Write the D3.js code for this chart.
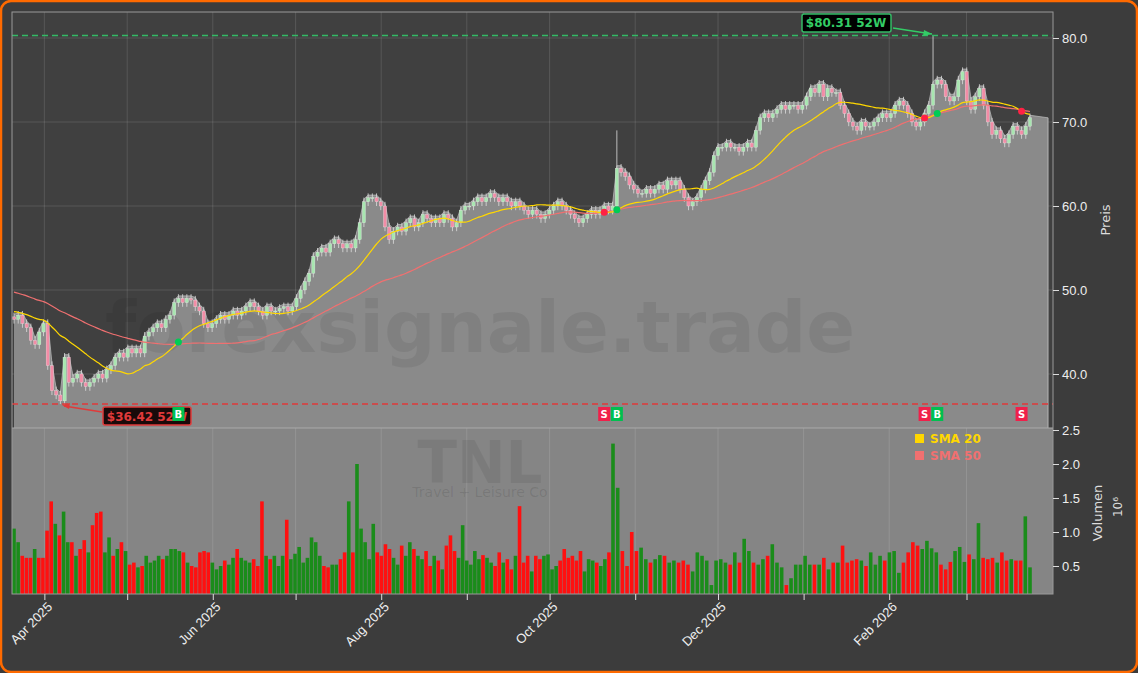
<!DOCTYPE html><html><head><meta charset="utf-8"><script src="https://cdn.jsdelivr.net/npm/d3@7"></script>
<style>body{margin:0;background:#3b3b3b;font-family:"DejaVu Sans",sans-serif}</style></head><body><svg id="c" width="1138" height="673"></svg>
<script>
const priorCloses=[54,53.8,53.5,53.6,53.2,53,52.8,52.5,52.7,52.4,52,51.8,52,51.6,51.3,51,51.2,50.8,50.5,50.6,50.2,50,49.8,50,49.6,49.3,49.5,49,48.8,49,48.6,48.3,48.5,48.2,47.9,48,47.7,47.5,47.8,47.4,47.2,47.5,47,46.8,47.1,46.7,46.5,46.8,46.4];
const closes=[46.5,47,46,45.5,44,43.5,45,46,41,38,37.5,36.8,42,39,39.5,40,39,38.5,39,39.5,40,39.5,40.5,41,42,42.5,42,43,42.5,43,42.5,44.5,45,45.5,46,45.5,46.5,47,48.5,49,48.5,49,48.8,48,47.5,46,45.5,46,46.5,47,46.5,47,47.5,47,47.5,48,48.5,48,47.5,47,48,47.5,47.5,47.8,48,47.5,48,49,50,51,52,54,54.5,55,54.5,55.5,56,55.5,55,55.5,55,56,58,60.5,61,61,60.5,60,57.5,56,57,57.5,57,58,58.5,57.5,58,59,58.5,58,58.5,58,59,58.5,57.5,58,59.5,60,60,60.5,61,60.5,61,61.5,61,60.5,61,60.5,60,60.5,60,59.5,59,59.5,59,58.5,59,59.5,60,60.5,60,59.5,59,58.5,58,58.5,59,59.5,59,59.5,60,59.5,60,64.5,64,63.5,62.5,62,61.5,61.5,62,61.5,62,62.5,62,63,62.5,63,62,61,60,60.5,61,62,63,64,66,67,67,67.5,67,67,66.5,67,67.5,67,69,70.5,71,70.5,71,71.5,72,71.5,72,72,71.5,72,73,74,73.5,74.5,73,74,73.5,73.5,72,71,70,69.5,69,70,69.5,69.5,70,70.5,71,70.5,71,72,72.5,72,71,70,69.5,70,71,72,74.5,75,74.5,73,72.5,73,75,76,72.5,71.5,73,74,72,70,68.5,69,68,67.5,68.5,69.5,69,68.5,69.5,70.5];
const volumes=[1.05,0.85,0.65,0.62,0.62,0.75,0.62,0.62,1.02,1.45,1.12,0.95,1.3,0.85,0.85,0.65,0.75,0.88,0.7,1.1,1.28,1.3,0.7,0.92,0.65,0.75,0.85,0.72,0.52,0.55,0.48,0.5,0.65,0.55,0.58,0.65,0.6,0.65,0.75,0.75,0.72,0.7,0.55,0.5,0.48,0.7,0.72,0.7,0.55,0.45,0.5,0.58,0.52,0.62,0.75,0.62,0.58,0.55,0.6,0.5,1.45,0.65,0.6,0.65,0.5,0.65,1.18,0.6,0.68,0.78,0.55,0.62,0.92,0.85,0.65,0.5,0.48,0.52,0.52,0.6,0.7,1.45,0.7,2.0,1.05,0.85,0.6,1.12,0.7,0.65,0.82,0.75,0.62,0.52,0.8,0.65,0.85,0.75,0.65,0.6,0.72,0.5,0.65,0.58,0.45,0.8,0.95,0.72,0.62,1.1,0.58,0.52,0.72,0.6,0.66,0.62,0.55,0.5,0.7,0.55,0.6,0.45,0.65,1.38,0.55,0.65,0.42,0.65,0.6,0.65,0.67,0.45,0.5,0.58,0.75,0.62,0.65,0.58,0.72,0.42,0.6,0.58,0.55,0.5,0.6,0.7,2.3,1.65,0.72,0.5,1.0,0.72,0.77,0.6,0.55,0.6,0.66,0.65,0.55,0.58,0.55,0.58,0.52,0.42,0.7,0.65,0.58,0.22,0.58,0.6,0.55,0.52,0.7,0.55,0.9,0.72,0.55,0.52,0.6,0.65,0.82,0.55,0.48,0.22,0.32,0.52,0.52,0.65,0.52,0.52,0.52,0.62,0.45,0.55,0.55,0.8,0.55,0.58,0.6,0.58,0.5,0.7,0.52,0.65,0.58,0.7,0.72,0.4,0.55,0.7,0.85,0.8,0.75,0.87,0.76,0.7,0.52,0.45,0.56,0.72,0.78,0.56,0.67,0.6,1.13,0.62,0.6,0.62,0.55,0.7,0.58,0.6,0.58,0.58,1.23,0.48];
const volUp=[1,1,0,0,0,1,0,0,0,0,1,0,1,1,0,1,0,0,1,0,0,0,1,1,0,1,0,1,0,0];
const xTickLabels=["Apr 2025","Jun 2025","Aug 2025","Oct 2025","Dec 2025","Feb 2026"];
const priceTicks=[40,50,60,70,80];
const volTicks=[0.5,1.0,1.5,2.0,2.5];
const high52=80.31, low52=36.42;

const N=closes.length, NV=volumes.length;
const spikeI=closes.findIndex((c,i)=>i>100&&c-closes[i-1]>4);
const svg=d3.select("#c");
svg.append("rect").attr("x",1).attr("y",1).attr("width",1136).attr("height",671).attr("rx",10).attr("fill","#3c3c3c").attr("stroke","#ff6a00").attr("stroke-width",2.5);
const L=12,R=1053,PT=12,PB=428,VB=594;
const tx=d3.scaleTime().domain([new Date(2025,2,21),new Date(2026,2,24)]).range([14,1030]);
const xi=d3.scaleLinear().domain([0,N-1]).range([14,1030]);
const y=d3.scaleLinear().domain([80-(PB-38)/8.4, 80+(38-PT)/8.4]).range([PB,PT]);
const yv=d3.scaleLinear().domain([0,2.5]).range([600,430]);
svg.append("defs").append("clipPath").attr("id","vc").append("rect").attr("x",L).attr("y",PB).attr("width",R-L).attr("height",VB-PB);
svg.append("rect").attr("x",L).attr("y",PT).attr("width",R-L).attr("height",PB-PT).attr("fill","#404040");
svg.append("rect").attr("x",L).attr("y",PB).attr("width",R-L).attr("height",VB-PB).attr("fill","#858585");
const g=svg.append("g");
const allMonths=d3.timeMonth.range(new Date(2025,3,1),new Date(2026,3,1));
allMonths.forEach(m=>g.append("line").attr("x1",tx(m)).attr("x2",tx(m)).attr("y1",PT).attr("y2",VB).attr("stroke","#ffffff").attr("stroke-opacity",0.12));
priceTicks.forEach(v=>g.append("line").attr("x1",L).attr("x2",R).attr("y1",y(v)).attr("y2",y(v)).attr("stroke","#ffffff").attr("stroke-opacity",0.12));
const opens=closes.map((c,i)=>i?closes[i-1]:c+0.3);
const highI=d3.maxIndex(closes.map((c,i)=>c-opens[i]>1.5&&i>200?1:0));
const pts=closes.map((c,i)=>[xi(i),y(Math.max(c,opens[i])+0.3)]);
pts.push([1048,y(closes[N-1])]);
const areaGen=d3.area().x(d=>d[0]).y0(PB).y1(d=>d[1]);
svg.append("path").attr("d",areaGen(pts)).attr("fill","#8a8a8a");
svg.append("path").attr("d",d3.line()(pts)).attr("fill","none").attr("stroke","#b5b5b5").attr("stroke-width",0.8);
svg.append("line").attr("x1",1048).attr("x2",1048).attr("y1",y(closes[N-1])).attr("y2",PB).attr("stroke","#b5b5b5");
svg.append("text").attr("x",480).attr("y",352).attr("text-anchor","middle").attr("font-size",72).attr("font-weight","bold").attr("fill","#000").attr("fill-opacity",0.07).text("forexsignale.trade");
const cg=svg.append("g");
for(let i=0;i<N;i++){const o=opens[i],c=closes[i];const hi=Math.max(o,c)+0.5,lo=Math.min(o,c)-0.5;
 let H=hi,Lo=lo; if(i===spikeI)H=69; if(i===highI)H=high52; if(i===11)Lo=low52;
 const x=xi(i),col=c>=o?"#a8e6b0":"#f28ca6";
 cg.append("line").attr("x1",x).attr("x2",x).attr("y1",y(H)).attr("y2",y(Lo)).attr("stroke","#dddddd").attr("stroke-width",0.8);
 cg.append("rect").attr("x",x-1.6).attr("width",3.2).attr("y",y(Math.max(o,c))).attr("height",Math.max(1,Math.abs(y(o)-y(c)))).attr("fill",col).attr("stroke","#eee").attr("stroke-width",0.3);}
const all=priorCloses.concat(closes);const P=priorCloses.length;
function sma(n){return d3.range(N).map(i=>{const j=i+P;const s=all.slice(Math.max(0,j-n+1),j+1);return d3.mean(s);});}
const s20=sma(20),s50=sma(50);
const line=d3.line().x((d,i)=>xi(i)).y(d=>y(d)).curve(d3.curveMonotoneX);
svg.append("path").attr("d",line(s50)).attr("fill","none").attr("stroke","#f07070").attr("stroke-width",1.2);
svg.append("path").attr("d",line(s20)).attr("fill","none").attr("stroke","#ffd700").attr("stroke-width",1.2);
svg.append("line").attr("x1",L).attr("x2",R).attr("y1",y(high52)).attr("y2",y(high52)).attr("stroke","#33bb66").attr("stroke-width",1.5).attr("stroke-dasharray","6,4");
svg.append("line").attr("x1",L).attr("x2",R).attr("y1",y(low52)).attr("y2",y(low52)).attr("stroke","#e03a3a").attr("stroke-width",1.5).attr("stroke-dasharray","6,4");
svg.append("rect").attr("x",802).attr("y",14).attr("width",89).attr("height",18).attr("rx",2).attr("fill","#000").attr("stroke","#33bb66").attr("stroke-width",1.5);
svg.append("text").attr("x",846).attr("y",27).attr("text-anchor","middle").attr("font-size",12).attr("font-weight","bold").attr("fill","#33cc66").text("$80.31 52W");
svg.append("path").attr("d",`M893,28L932,34`).attr("stroke","#33cc66").attr("stroke-width",1.5);
svg.append("path").attr("d","M932,34l-8,-4l-1,6z").attr("fill","#33cc66");
svg.append("rect").attr("x",103).attr("y",407).attr("width",88).attr("height",18).attr("rx",2).attr("fill","#1a0a0a").attr("stroke","#e03a3a").attr("stroke-width",1.5);
svg.append("text").attr("x",147).attr("y",421).attr("text-anchor","middle").attr("font-size",12).attr("font-weight","bold").attr("fill","#e03a3a").text("$36.42 52W");
svg.append("path").attr("d","M102,412L64,406").attr("stroke","#e03a3a").attr("stroke-width",1.5);
svg.append("path").attr("d","M62,405l8,-2l-1,6z").attr("fill","#e03a3a");
for(let i=1;i<N;i++){const a=s20[i-1]-s50[i-1],b=s20[i]-s50[i];if(a*b<0){const buy=b>0;
 svg.append("circle").attr("cx",xi(i)).attr("cy",y(s20[i])).attr("r",3.5).attr("fill",buy?"#00cc55":"#ff2244");
 svg.append("rect").attr("x",xi(i)-6).attr("y",407).attr("width",12).attr("height",14).attr("fill",buy?"#00c050":"#f0204a");
 svg.append("text").attr("x",xi(i)).attr("y",418).attr("text-anchor","middle").attr("font-size",10).attr("font-weight","bold").attr("fill","#fff").text(buy?"B":"S");}}
svg.append("text").attr("x",480).attr("y",483).attr("text-anchor","middle").attr("font-size",58).attr("font-weight","bold").attr("fill","#000").attr("fill-opacity",0.07).text("TNL");
svg.append("text").attr("x",480).attr("y",497).attr("text-anchor","middle").attr("font-size",14).attr("fill","#000").attr("fill-opacity",0.1).text("Travel + Leisure Co");
const vmax=d3.maxIndex(volumes);
const v2=volumes.indexOf(2.0);
const xv=d3.scaleLinear().domain([0,v2,vmax,NV-1]).range([14,357,613,1030]);
const bw=(xi(1)-xi(0))*0.85;
const vg=svg.append("g").attr("clip-path","url(#vc)");
for(let i=0;i<NV;i++){const ci=Math.max(0,Math.min(N-1,Math.round(xi.invert(xv(i)))));const up=i<volUp.length?volUp[i]:closes[ci]>=opens[ci];
 vg.append("rect").attr("x",xv(i)-bw/2).attr("width",bw).attr("y",yv(volumes[i])).attr("height",Math.max(0,VB-yv(volumes[i]))).attr("fill",up?"#1a8c1a":"#ff1010");}
svg.append("line").attr("x1",L).attr("x2",R).attr("y1",PB).attr("y2",PB).attr("stroke","#aaa");
svg.append("rect").attr("x",915).attr("y",434).attr("width",9).attr("height",9).attr("fill","#ffd700");
svg.append("text").attr("x",930).attr("y",443).attr("font-size",12).attr("font-weight","bold").attr("fill","#ffd700").text("SMA 20");
svg.append("rect").attr("x",915).attr("y",451).attr("width",9).attr("height",9).attr("fill","#f07070");
svg.append("text").attr("x",930).attr("y",460).attr("font-size",12).attr("font-weight","bold").attr("fill","#f07070").text("SMA 50");
svg.append("rect").attr("x",L).attr("y",PT).attr("width",R-L).attr("height",VB-PT).attr("fill","none").attr("stroke","#999");
const ay=svg.append("g").attr("transform",`translate(${R},0)`).call(d3.axisRight(y).tickValues(priceTicks).tickFormat(d3.format(".1f")));
const av=svg.append("g").attr("transform",`translate(${R},0)`).call(d3.axisRight(yv).tickValues(volTicks).tickFormat(d3.format(".1f")));
const ax=svg.append("g").attr("transform",`translate(0,${VB})`).call(d3.axisBottom(tx).tickValues(allMonths).tickFormat((d,i)=>i%2===0?xTickLabels[i/2]:""));
[ay,av,ax].forEach(a=>{a.select(".domain").remove();a.selectAll("line").attr("stroke","#ddd");a.selectAll("text").attr("fill","#eee").attr("font-size",13);});
ax.selectAll("text").attr("text-anchor","end").attr("transform","rotate(-45)").attr("dx","-0.3em").attr("dy","0.5em");
svg.append("text").attr("transform","translate(1110,220) rotate(-90)").attr("text-anchor","middle").attr("font-size",13).attr("fill","#ddd").text("Preis");
svg.append("text").attr("transform","translate(1102,513) rotate(-90)").attr("text-anchor","middle").attr("font-size",13).attr("fill","#ddd").text("Volumen");
svg.append("text").attr("transform","translate(1122,507) rotate(-90)").attr("text-anchor","middle").attr("font-size",12).attr("fill","#ddd").text("10⁶");
</script></body></html>
